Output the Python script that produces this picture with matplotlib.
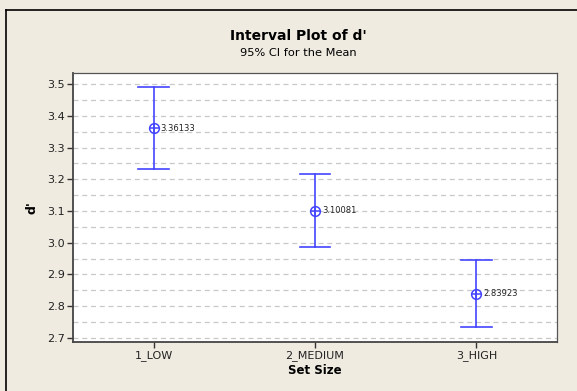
import matplotlib
matplotlib.use("Agg")
import matplotlib.pyplot as plt
from matplotlib.lines import Line2D

categories = ["1_LOW", "2_MEDIUM", "3_HIGH"]
means = [3.36133, 3.10081, 2.83923]
lower = [3.2313, 2.9862, 2.7345]
upper = [3.4913, 3.2155, 2.9440]
yticks = [2.7, 2.8, 2.9, 3.0, 3.1, 3.2, 3.3, 3.4, 3.5]

W, H = 577, 391
fig = plt.figure(figsize=(W / 100, H / 100), dpi=100)
bg = "#EFEBE1"
fig.patch.set_facecolor(bg)

# outer frame (top and left edges visible)
fig.add_artist(Line2D([6 / W, 6 / W], [0, 1 - 10 / H], color="black", lw=1.2, transform=fig.transFigure))
fig.add_artist(Line2D([6 / W, 1], [1 - 10 / H, 1 - 10 / H], color="black", lw=1.2, transform=fig.transFigure))

ax = fig.add_axes([73 / W, 1 - 342 / H, (557 - 73) / W, (342 - 73) / H])
ax.set_facecolor("white")

x = list(range(1, len(categories) + 1))
blue = "#4444FF"
for xi, m, lo, hi in zip(x, means, lower, upper):
    ax.plot([xi, xi], [lo, hi], color=blue, lw=1.2, zorder=3)
    ax.plot([xi - 0.095, xi + 0.095], [hi, hi], color=blue, lw=1.2, zorder=3)
    ax.plot([xi - 0.095, xi + 0.095], [lo, lo], color=blue, lw=1.2, zorder=3)
    ax.plot([xi], [m], marker="o", ms=7, mfc="none", mec=blue, mew=1.1, zorder=4)
    ax.plot([xi], [m], marker="+", ms=7, color=blue, mew=1.1, zorder=4)
    ax.annotate(f"{m:.5f}", (xi, m), xytext=(5, 0), textcoords="offset points",
                fontsize=6, va="center", ha="left", color="#222222")

ax.set_xlim(0.5, 3.5)
ax.set_ylim(2.687, 3.535)
ax.set_xticks(x)
ax.set_xticklabels(categories, fontsize=8, color="#222222")
ax.set_yticks(yticks)
ax.set_yticklabels([f"{v:.1f}" for v in yticks], fontsize=8, color="#222222")
ax.set_yticks([v + 0.05 for v in yticks[:-1]], minor=True)
ax.tick_params(axis="y", which="minor", length=0)
ax.tick_params(axis="both", which="major", length=4, width=1, color="#333333", pad=2)
ax.grid(axis="y", which="both", color="#C8C8C8", linestyle=(0, (4, 3)), lw=0.9)
ax.set_axisbelow(True)
for s in ["left", "bottom"]:
    ax.spines[s].set_color("#444444")
    ax.spines[s].set_linewidth(1.3)
for s in ["top", "right"]:
    ax.spines[s].set_color("#555555")
    ax.spines[s].set_linewidth(0.9)

ax.set_xlabel("Set Size", fontsize=8.5, fontweight="bold", labelpad=2)
ax.set_ylabel("d'", fontsize=9, fontweight="bold", labelpad=6)

fig.text(298 / W, 1 - 36 / H, "Interval Plot of d'", ha="center", va="center",
         fontsize=10, fontweight="bold")
fig.text(298 / W, 1 - 53 / H, "95% CI for the Mean", ha="center", va="center", fontsize=8.2)

fig.savefig("out.png", dpi=100, facecolor=bg)
